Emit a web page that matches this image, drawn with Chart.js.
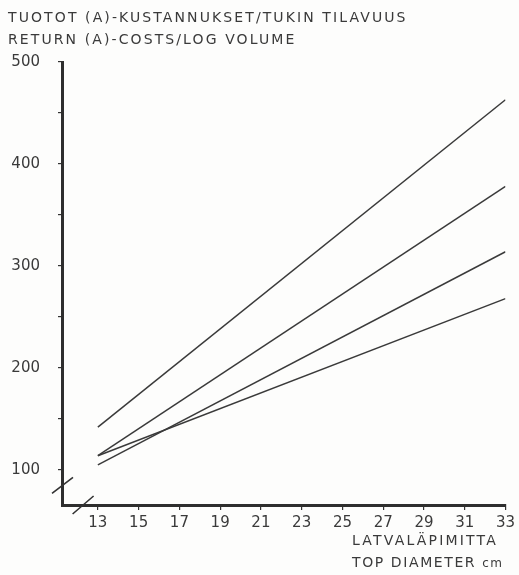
<!DOCTYPE html>
<html>
<head>
<meta charset="utf-8">
<script src="https://cdn.jsdelivr.net/npm/chart.js@4/dist/chart.umd.min.js"></script>
<style>
  html, body { margin: 0; padding: 0; background: #fdfdfc; }
  #wrap { position: relative; width: 519px; height: 575px; }
  canvas { position: absolute; left: 0; top: 0; }
  .lbl {
    position: absolute;
    font-family: "DejaVu Sans", sans-serif;
    color: #3a3a3a;
    white-space: nowrap;
  }
  .title { left: 8px; font-size: 14px; letter-spacing: 2.1px; }
  .xname { left: 352px; font-size: 14px; letter-spacing: 2.2px; }
  .xname.second { letter-spacing: 1.6px; }
  .xname small { font-size: 12px; letter-spacing: 1.5px; }
</style>
</head>
<body>
<div id="wrap">
  <canvas id="myChart" width="519" height="575"></canvas>
  <div class="lbl title" style="top:9px">TUOTOT (A)-KUSTANNUKSET/TUKIN TILAVUUS</div>
  <div class="lbl title" style="top:31px">RETURN (A)-COSTS/LOG VOLUME</div>
  <div class="lbl xname" style="top:532px">LATVALÄPIMITTA</div>
  <div class="lbl xname second" style="top:554px">TOP DIAMETER <small>cm</small></div>
</div>
<script>
// top diameter, cm (line ends)
let diameters = [13, 33];
// return minus costs per log volume, one array per line
let lineA = [142, 463];
let lineB = [114, 378];
let lineC = [105, 314];
let lineD = [114, 268];

let xTicks = [13, 15, 17, 19, 21, 23, 25, 27, 29, 31, 33];
let yTicks = [100, 150, 200, 250, 300, 350, 400, 450, 500];
let yLabelled = [100, 200, 300, 400, 500];

let ink = "#3a3a3a";

function makeSet(values) {
  return {
    data: values.map((v, i) => ({ x: diameters[i], y: v })),
    borderColor: ink,
    borderWidth: 1.5,
    pointRadius: 0,
    fill: false,
    tension: 0
  };
}

// the little "//" axis breaks near the origin
const axisBreaks = {
  id: "axisBreaks",
  afterDraw(chart) {
    const ctx = chart.ctx;
    const xs = chart.scales.x, ys = chart.scales.y;
    ctx.save();
    ctx.strokeStyle = "#333";
    ctx.lineWidth = 1.6;
    let x0 = xs.left, y0 = ys.getPixelForValue(85);
    ctx.beginPath();
    ctx.moveTo(x0 - 10, y0 + 8);
    ctx.lineTo(x0 + 11, y0 - 8);
    let x1 = xs.getPixelForValue(12.3), y1 = ys.bottom;
    ctx.moveTo(x1 - 11, y1 + 9);
    ctx.lineTo(x1 + 10, y1 - 9);
    ctx.stroke();
    ctx.restore();
  }
};

let ctx = document.getElementById("myChart").getContext("2d");

const myChart = new Chart(ctx, {
  type: "line",
  data: {
    datasets: [makeSet(lineA), makeSet(lineB), makeSet(lineC), makeSet(lineD)]
  },
  plugins: [axisBreaks],
  options: {
    responsive: false,
    animation: false,
    layout: { padding: { top: 62, right: 10, left: 0, bottom: 0 } },
    plugins: {
      legend: { display: false },
      tooltip: { enabled: false }
    },
    scales: {
      x: {
        type: "linear",
        min: 11.24,
        max: 33,
        afterBuildTicks: (scale) => { scale.ticks = xTicks.map(v => ({ value: v })); },
        afterFit: (scale) => { scale.height = 70; },
        border: { color: "#2e2e2e", width: 3 },
        grid: { drawOnChartArea: false, drawTicks: true, tickLength: 5, color: "#333", lineWidth: 1.2 },
        ticks: {
          color: ink,
          padding: 4,
          maxRotation: 0,
          autoSkip: false,
          font: { family: "DejaVu Sans", size: 15 },
          callback: (v) => String(v)
        }
      },
      y: {
        type: "linear",
        min: 65.7,
        max: 500,
        afterBuildTicks: (scale) => { scale.ticks = yTicks.map(v => ({ value: v })); },
        afterFit: (scale) => { scale.width = 62; },
        border: { color: "#2e2e2e", width: 3 },
        grid: { drawOnChartArea: false, drawTicks: true, tickLength: 4, color: "#333", lineWidth: 1.2 },
        ticks: {
          color: ink,
          padding: 18,
          autoSkip: false,
          font: { family: "DejaVu Sans", size: 15 },
          callback: (v) => yLabelled.includes(v) ? String(v) : ""
        }
      }
    }
  }
});
</script>
</body>
</html>
